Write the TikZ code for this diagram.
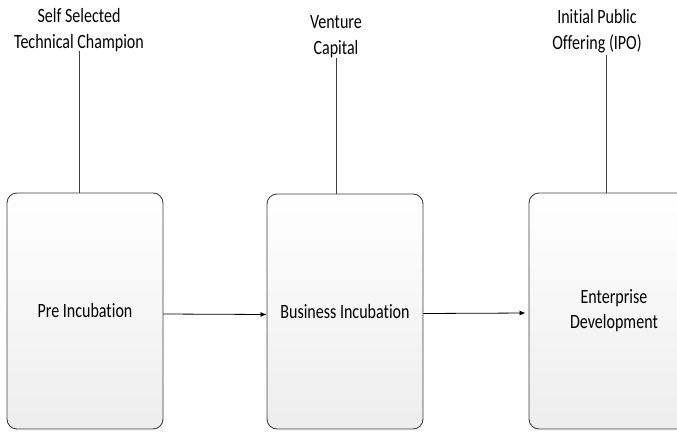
\documentclass[tikz,border=0pt]{standalone}
\usepackage{fontspec}
\setmainfont{Carlito}
\newfontfamily\tallfont[FakeStretch=0.79,Ligatures=NoCommon]{Carlito}
\usetikzlibrary{arrows.meta,calc}
\definecolor{edge}{HTML}{404040}
\tikzset{
  stage/.style={draw=edge, line width=0.9pt, rounded corners=10pt, rectangle,
    top color=white, bottom color=black!7, align=center, inner sep=0pt,
    font=\tallfont\fontsize{20.3}{25}\selectfont},
  toplabel/.style={align=center, inner sep=0pt, font=\tallfont\fontsize{20.3}{26}\selectfont},
  stem/.style={draw=edge, line width=0.9pt},
  flow/.style={draw=black, line width=0.8pt, -{Latex[length=6pt,width=5pt]}}
}
\begin{document}
\begin{tikzpicture}[x=1pt,y=-1pt]
\clip (0,0) rectangle (677,431);
\fill[white] (0,0) rectangle (677,431);
\node[stage, minimum width=156pt, minimum height=236pt] (b1) at (85,311) {Pre Incubation};
\node[stage, minimum width=156pt, minimum height=235pt] (b2) at (345,311.5) {Business Incubation};
\node[stage, minimum width=170pt, minimum height=236pt] (b3) at (614,311) {Enterprise\\Development};
\node[toplabel] (l1) at (79,30) {Self Selected\\Technical Champion};
\node[toplabel] (l2) at (336,37) {Venture\\Capital};
\node[toplabel] (l3) at (597,31) {Initial Public\\Offering (IPO)};
\coordinate (t1) at (79,51);
\coordinate (t2) at (336,58);
\coordinate (t3) at (606,55);
\draw[stem] (t1) -- (t1 |- b1.north);
\draw[stem] (t2) -- (t2 |- b2.north);
\draw[stem] (t3) -- (t3 |- b3.north);
\draw[flow] ($(b1.east)+(0,3)$) -- ($(b2.west)+(0,3)$);
\draw[flow, shorten >=3pt] ($(b2.east)+(0,2)$) -- ($(b3.west)+(0,2)$);
\end{tikzpicture}
\end{document}
